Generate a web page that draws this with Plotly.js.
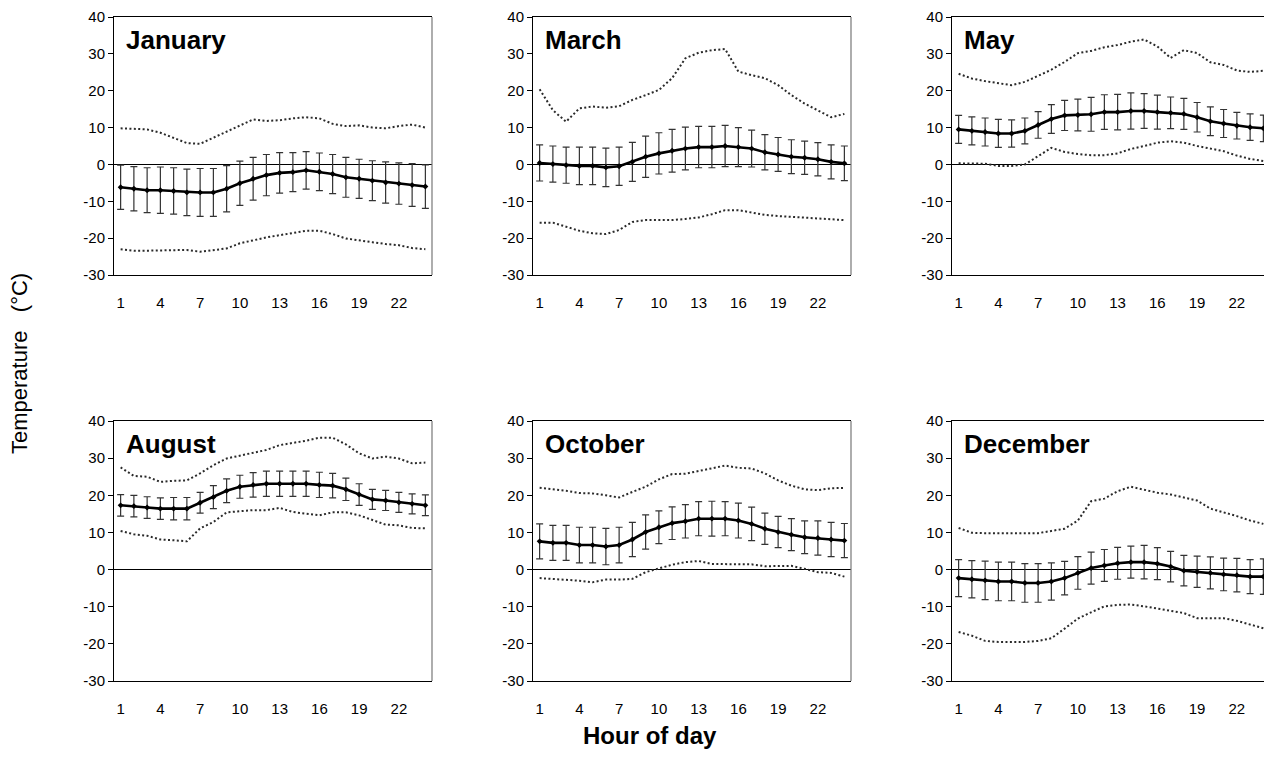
<!DOCTYPE html>
<html>
<head>
<meta charset="utf-8">
<script src="https://cdn.plot.ly/plotly-3.0.1.min.js"></script>
<style>
  html, body { margin: 0; padding: 0; overflow: hidden; background: #fff; }
  #chart { width: 1290px; height: 778px; }
</style>
</head>
<body>
<div id="chart"></div>
<script>
// Hourly temperature profiles for six months: mean ± std (error bars),
// plus the hourly maximum and minimum (dotted lines).
const hours = [1,2,3,4,5,6,7,8,9,10,11,12,13,14,15,16,17,18,19,20,21,22,23,24];
const hourTicks = [1,4,7,10,13,16,19,22];
const tempTicks = [-30,-20,-10,0,10,20,30,40];

const janMean = [-6.2,-6.6,-7.0,-7.0,-7.2,-7.6,-7.6,-7.6,-6.6,-5.1,-3.9,-2.9,-2.3,-2.1,-1.6,-2.0,-2.6,-3.5,-3.9,-4.4,-4.9,-5.2,-5.6,-6.0];
const janStd  = [6.0,6.0,6.1,6.3,6.3,6.3,6.5,6.5,6.3,6.0,5.8,5.6,5.5,5.3,5.1,5.1,5.3,5.4,5.3,5.4,5.6,5.6,5.8,5.9];
const janMax  = [9.8,9.6,9.5,8.6,7.2,5.8,5.6,7.3,9.0,10.7,12.2,11.8,12.0,12.5,12.8,12.5,11.0,10.4,10.6,10.0,9.8,10.4,10.8,10.0];
const janMin  = [-23.0,-23.4,-23.4,-23.4,-23.4,-23.2,-23.7,-23.2,-22.8,-21.4,-20.5,-19.8,-19.2,-18.7,-18.0,-18.0,-18.9,-20.1,-20.7,-21.1,-21.6,-21.9,-22.7,-23.0];

const marMean = [0.4,0.1,-0.2,-0.4,-0.4,-0.8,-0.5,0.7,2.1,3.0,3.7,4.3,4.7,4.7,5.0,4.7,4.3,3.3,2.7,2.1,1.8,1.4,0.7,0.3];
const marStd  = [4.9,4.9,4.9,5.1,5.1,5.2,5.2,5.3,5.6,5.6,5.8,5.8,5.6,5.6,5.6,5.3,5.0,4.8,4.6,4.6,4.5,4.5,4.6,4.7];
const marMax  = [20.4,14.7,11.6,15.2,15.7,15.4,15.8,17.5,18.8,20.2,23.4,28.8,30.3,31.0,31.3,25.2,24.2,23.4,21.5,18.8,16.5,14.7,12.8,13.7];
const marMin  = [-15.8,-15.8,-16.9,-18.0,-18.7,-18.9,-17.8,-15.6,-15.1,-15.1,-15.1,-14.8,-14.4,-13.5,-12.4,-12.4,-13.0,-13.7,-14.0,-14.2,-14.5,-14.8,-14.8,-15.1];

const mayMean = [9.5,9.1,8.8,8.4,8.4,9.1,10.7,12.3,13.3,13.4,13.6,14.2,14.2,14.5,14.5,14.2,14.0,13.7,12.8,11.7,11.1,10.5,10.1,9.8];
const mayStd  = [3.8,3.8,3.8,3.8,3.7,3.5,3.6,3.9,4.1,4.3,4.6,4.7,4.8,4.9,4.7,4.6,4.3,4.2,4.0,3.9,3.8,3.6,3.6,3.6];
const mayMax  = [24.6,23.3,22.6,22.0,21.5,22.4,24.1,25.7,27.8,30.2,30.8,31.8,32.4,33.3,33.9,32.0,28.9,31.0,30.2,27.7,27.0,25.5,25.1,25.4];
const mayMin  = [0.3,0.2,0.2,-0.4,-0.4,0.0,2.3,4.5,3.4,2.8,2.5,2.5,3.0,4.2,5.0,5.9,6.3,5.9,5.0,4.2,3.6,2.4,1.5,0.9];

const augMean = [17.3,17.1,16.7,16.4,16.4,16.4,18.0,19.5,21.2,22.3,22.8,23.1,23.1,23.1,23.1,22.8,22.6,21.6,20.2,18.9,18.6,18.1,17.7,17.3];
const augStd  = [2.9,2.9,2.9,2.9,3.0,3.0,2.8,3.1,3.2,3.1,3.3,3.4,3.4,3.4,3.4,3.4,3.3,3.0,2.9,2.7,2.7,2.7,2.7,2.8];
const augMax  = [27.5,25.2,25.0,23.6,23.9,24.0,25.9,28.1,29.9,30.6,31.5,32.2,33.5,34.0,34.7,35.5,35.5,33.7,31.3,29.9,30.4,29.9,28.6,28.8];
const augMin  = [10.4,9.5,9.1,8.1,7.9,7.6,11.1,12.8,15.4,15.7,16.0,16.0,16.6,15.5,15.1,14.6,15.4,15.4,14.6,13.3,12.1,11.9,11.2,11.1];

const octMean = [7.6,7.2,7.2,6.6,6.6,6.2,6.6,8.1,10.1,11.4,12.5,13.0,13.7,13.7,13.7,13.2,12.3,11.0,10.1,9.4,8.7,8.5,8.1,7.8];
const octStd  = [4.7,4.7,4.7,4.8,4.8,4.9,4.8,4.6,4.6,4.4,4.4,4.5,4.6,4.7,4.6,4.7,4.5,4.2,4.2,4.3,4.4,4.6,4.6,4.6];
const octMax  = [22.0,21.6,21.2,20.6,20.5,20.0,19.4,20.9,22.3,24.3,25.7,25.8,26.6,27.2,28.0,27.4,27.2,25.9,24.0,22.6,21.6,21.4,21.9,22.0];
const octMin  = [-2.3,-2.5,-2.7,-3.0,-3.4,-2.7,-2.7,-2.5,-0.7,0.4,1.3,2.0,2.3,1.5,1.4,1.4,1.4,0.9,0.9,1.0,0.2,-0.7,-0.9,-1.9];

const decMean = [-2.3,-2.6,-2.9,-3.2,-3.2,-3.6,-3.6,-3.2,-2.3,-0.9,0.4,1.1,1.7,2.0,2.0,1.6,0.8,-0.3,-0.6,-0.9,-1.3,-1.5,-1.9,-1.9];
const decStd  = [5.0,5.0,5.2,5.2,5.2,5.2,5.2,5.0,4.5,4.4,4.3,4.3,4.3,4.3,4.5,4.3,4.1,4.1,4.2,4.3,4.4,4.5,4.6,4.8];
const decMax  = [11.2,9.9,9.8,9.8,9.8,9.8,9.8,10.4,11.0,13.2,18.4,19.1,21.1,22.3,21.4,20.7,20.2,19.5,18.6,16.4,15.5,14.4,13.2,12.3];
const decMin  = [-16.8,-17.8,-19.2,-19.5,-19.5,-19.5,-19.2,-18.5,-15.9,-13.2,-11.5,-9.9,-9.5,-9.4,-9.9,-10.5,-11.2,-11.7,-13.1,-13.1,-13.1,-13.8,-14.7,-15.8];

const months = ['January','March','May','August','October','December'];
const panels = [
  {mean: janMean, std: janStd, max: janMax, min: janMin},
  {mean: marMean, std: marStd, max: marMax, min: marMin},
  {mean: mayMean, std: mayStd, max: mayMax, min: mayMin},
  {mean: augMean, std: augStd, max: augMax, min: augMin},
  {mean: octMean, std: octStd, max: octMax, min: octMin},
  {mean: decMean, std: decStd, max: decMax, min: decMin}
];

// Page geometry in pixels (the figure is slightly wider than the window,
// so the right-hand column runs off the edge).
const W = 1290, H = 778;
const colPx = [[114, 432], [533, 851], [952, 1270]];
const rowPx = [[17, 275], [421, 681]];

const sans = '"Liberation Sans", Arial, sans-serif';
const tickFont = {family: sans, size: 15, color: '#000'};
const dotted = {color: '#2a2a2a', width: 2, dash: '2px,2.4px'};

const traces = [];
const layout = {
  width: W, height: H,
  margin: {l: 0, r: 0, t: 0, b: 0},
  paper_bgcolor: '#fff', plot_bgcolor: '#fff',
  showlegend: false,
  annotations: [],
  shapes: [],
  font: {family: sans, color: '#000'}
};

panels.forEach((p, i) => {
  const n = i + 1;
  const xa = n === 1 ? 'x' : 'x' + n;
  const ya = n === 1 ? 'y' : 'y' + n;
  const col = colPx[i % 3], row = rowPx[Math.floor(i / 3)];

  traces.push({x: hours, y: p.max, xaxis: xa, yaxis: ya, mode: 'lines', line: dotted, hoverinfo: 'skip'});
  traces.push({x: hours, y: p.min, xaxis: xa, yaxis: ya, mode: 'lines', line: dotted, hoverinfo: 'skip'});
  traces.push({
    x: hours, y: p.mean, xaxis: xa, yaxis: ya, mode: 'lines+markers',
    line: {color: '#000', width: 2.6},
    marker: {color: '#000', size: 4.5, symbol: 'diamond'},
    error_y: {type: 'data', array: p.std, visible: true, color: '#333', thickness: 1.2, width: 3.5}
  });

  const xKey = n === 1 ? 'xaxis' : 'xaxis' + n;
  const yKey = n === 1 ? 'yaxis' : 'yaxis' + n;
  layout[xKey] = {
    domain: [col[0] / W, col[1] / W],
    anchor: ya,
    range: [0.5, 24.5],
    tickvals: hourTicks,
    ticktext: hourTicks.map(String),
    ticks: 'outside', ticklen: 14, tickcolor: 'rgba(0,0,0,0)',
    tickfont: tickFont,
    showline: true, linecolor: '#000', linewidth: 1, mirror: 'allticks',
    showgrid: false, zeroline: false, fixedrange: true
  };
  layout[yKey] = {
    domain: [1 - row[1] / H, 1 - row[0] / H],
    anchor: xa,
    range: [-30, 40],
    tickvals: tempTicks,
    ticktext: tempTicks.map(String),
    ticks: 'outside', ticklen: 5, tickcolor: '#000', tickwidth: 1,
    tickfont: tickFont,
    showline: true, linecolor: '#000', linewidth: 1,
    showgrid: false,
    zeroline: true, zerolinecolor: '#000', zerolinewidth: 1.2,
    fixedrange: true
  };
  // right-hand frame edge is a lighter grey
  layout.shapes.push({
    type: 'line', xref: xa + ' domain', yref: ya + ' domain',
    x0: 1, x1: 1, y0: 0, y1: 1, line: {color: '#777', width: 1.2}
  });
  layout.annotations.push({
    text: months[i], xref: xa + ' domain', yref: ya + ' domain',
    x: 0.03, y: 0.975, xanchor: 'left', yanchor: 'top', showarrow: false,
    font: {family: sans, size: 26, weight: 'bold', color: '#000'}
  });
});

// Shared axis titles
layout.annotations.push({
  text: 'Temperature&nbsp;&nbsp;&nbsp;(°C)', xref: 'paper', yref: 'paper',
  x: 20 / W, y: 1 - 364 / H, xanchor: 'center', yanchor: 'middle',
  textangle: -90, showarrow: false,
  font: {family: sans, size: 22, color: '#000'}
});
layout.annotations.push({
  text: 'Hour of day', xref: 'paper', yref: 'paper',
  x: 650 / W, y: 1 - 735 / H, xanchor: 'center', yanchor: 'middle',
  showarrow: false,
  font: {family: sans, size: 24, weight: 'bold', color: '#000'}
});

Plotly.newPlot('chart', traces, layout, {staticPlot: true, displayModeBar: false});
</script>
</body>
</html>
